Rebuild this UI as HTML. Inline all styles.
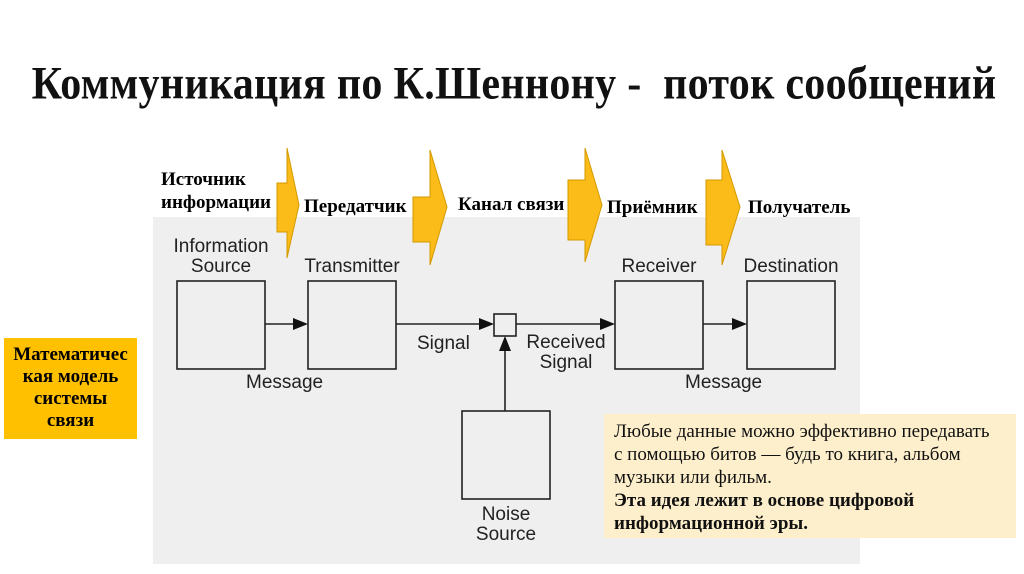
<!DOCTYPE html>
<html><head><meta charset="utf-8"><style>
body{margin:0;width:1024px;height:574px;background:#fff;overflow:hidden;position:relative;font-family:"Liberation Sans",sans-serif}
.t{position:absolute;white-space:nowrap}
.serif{font-family:"Liberation Serif","Noto Serif CJK SC",serif}
</style></head><body>
<div class="t serif" style="left:0;width:1028px;top:57px;text-align:center;font-size:42px;font-weight:bold;color:#111;transform:scaleY(1.12);transform-origin:50% 0;letter-spacing:0.3px">Коммуникация по К.Шеннону -&nbsp; поток сообщений</div>
<div style="position:absolute;left:153px;top:217px;width:707px;height:347px;background:#efefef"></div>
<svg width="1024" height="574" style="position:absolute;left:0;top:0">
<g fill="#fbbb18" stroke="#d39a00" stroke-width="1">
<polygon points="277,183 287,183 287,148 299,205 287,258 287,232 277,232"/>
<polygon points="413,197 430,197 430,150 447,207 430,265 430,242 413,242"/>
<polygon points="568,180 585,180 585,148 602,205 585,262 585,240 568,240"/>
<polygon points="706,180 722,180 722,150 740,207 722,265 722,245 706,245"/>
</g>
<g fill="#efefef" stroke="#222" stroke-width="1.6">
<rect x="177" y="281" width="88" height="88"/>
<rect x="308" y="281" width="88" height="88"/>
<rect x="494" y="314" width="22" height="22"/>
<rect x="615" y="281" width="88" height="88"/>
<rect x="747" y="281" width="88" height="88"/>
<rect x="462" y="411" width="88" height="88"/>
</g>
<g stroke="#222" stroke-width="1.6">
<line x1="265" y1="324" x2="297" y2="324"/>
<line x1="396" y1="324" x2="482" y2="324"/>
<line x1="516" y1="324" x2="603" y2="324"/>
<line x1="703" y1="324" x2="735" y2="324"/>
<line x1="505" y1="411" x2="505" y2="348"/>
</g>
<g fill="#111">
<polygon points="308,324 293,318 293,330"/>
<polygon points="494,324 479,318 479,330"/>
<polygon points="615,324 600,318 600,330"/>
<polygon points="747,324 732,318 732,330"/>
<polygon points="505,336 499,351 511,351"/>
</g>
</svg>
<div class="t serif" style="left:161px;top:168px;font-size:19px;font-weight:bold;line-height:23px">Источник<br>информации</div>
<div class="t serif" style="left:304px;top:196px;font-size:19px;font-weight:bold">Передатчик</div>
<div class="t serif" style="left:458px;top:194px;font-size:19px;font-weight:bold">Канал связи</div>
<div class="t serif" style="left:607px;top:197px;font-size:19px;font-weight:bold">Приёмник</div>
<div class="t serif" style="left:748px;top:197px;font-size:19px;font-weight:bold">Получатель</div>
<div class="t" style="left:160px;width:122px;text-align:center;top:237px;font-size:19px;line-height:20px;color:#222">Information<br>Source</div>
<div class="t" style="left:302px;width:100px;text-align:center;top:256px;font-size:19px;color:#222">Transmitter</div>
<div class="t" style="left:609px;width:100px;text-align:center;top:256px;font-size:19px;color:#222">Receiver</div>
<div class="t" style="left:730px;width:122px;text-align:center;top:256px;font-size:19px;color:#222">Destination</div>
<div class="t" style="left:246px;top:372px;font-size:19px;color:#222">Message</div>
<div class="t" style="left:685px;top:372px;font-size:19px;color:#222">Message</div>
<div class="t" style="left:417px;top:333px;font-size:19px;color:#222">Signal</div>
<div class="t" style="left:516px;width:100px;text-align:center;top:333px;font-size:19px;line-height:20px;color:#222">Received<br>Signal</div>
<div class="t" style="left:456px;width:100px;text-align:center;top:505px;font-size:19px;line-height:20px;color:#222">Noise<br>Source</div>
<div class="serif" style="position:absolute;left:4px;top:338px;width:133px;height:101px;background:#ffc000;text-align:center;font-size:19px;font-weight:bold;line-height:22px;padding-top:6px;box-sizing:border-box;white-space:nowrap">Математичес<br>кая модель<br>системы<br>связи</div>
<div class="serif" style="position:absolute;left:604px;top:414px;width:412px;height:124px;background:#fdefcb;font-size:19px;line-height:23px;padding:6px 0 0 10px;box-sizing:border-box;color:#111;white-space:nowrap">Любые данные можно эффективно передавать<br>с помощью битов — будь то книга, альбом<br>музыки или фильм.<br><b>Эта идея лежит в основе цифровой<br>информационной эры.</b></div>
</body></html>
